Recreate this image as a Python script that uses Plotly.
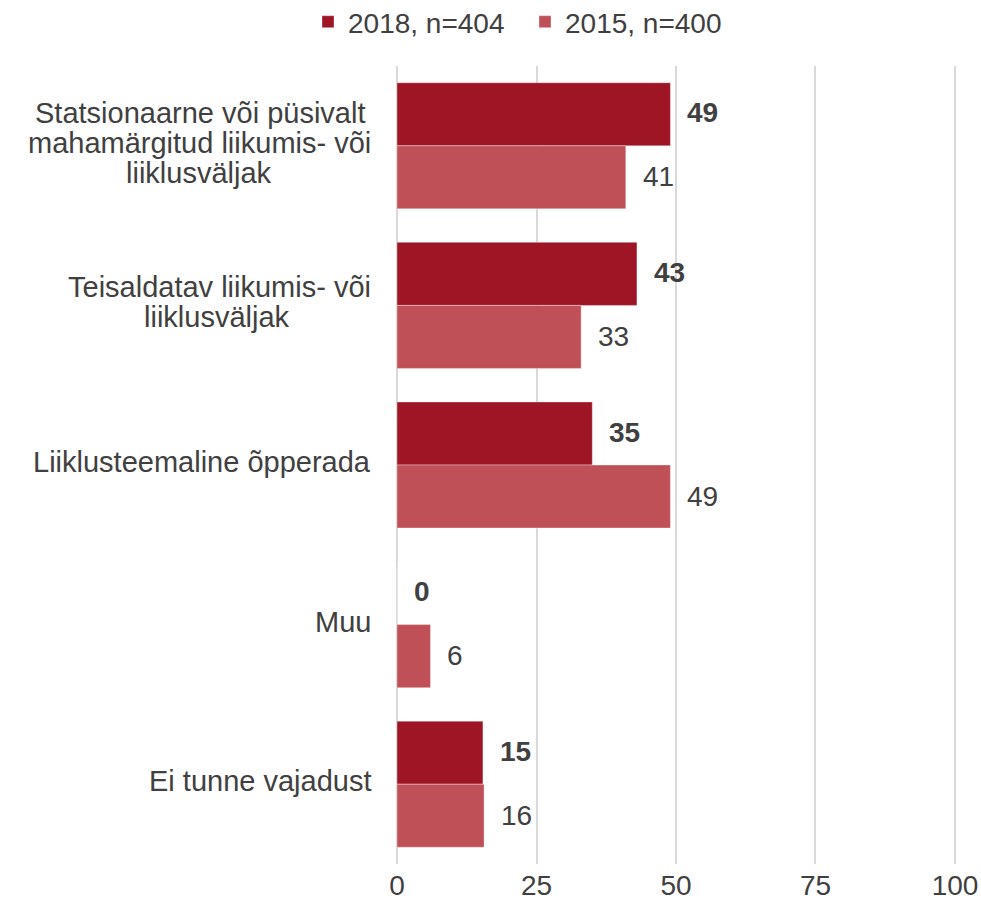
import plotly.graph_objects as go

categories = [
    "Statsionaarne või püsivalt<br>mahamärgitud liikumis- või<br>liiklusväljak",
    "Teisaldatav liikumis- või<br>liiklusväljak",
    "Liiklusteemaline õpperada",
    "Muu",
    "Ei tunne vajadust",
]
cat_ids = ["c1", "c2", "c3", "c4", "c5"]
values_2018 = [49, 43, 35, 0, 15.4]
values_2015 = [41, 33, 49, 6, 15.6]
series_names = ["2018, n=404", "2015, n=400"]
tick_vals = [0, 25, 50, 75, 100]

c2018 = "#9E1526"
c2015 = "#C05058"
txt = "#404040"
font_family = "Liberation Sans, Arial, sans-serif"
cat_font = 29
val_font = 28
line_gap = 30

# approximate Arial/Liberation Sans advance widths (per 1000 em) for label layout
_w = dict(a=556, b=556, c=500, d=556, e=556, f=278, g=556, h=556, i=222, j=222, k=500, l=222,
          m=833, n=556, o=556, p=556, q=556, r=333, s=500, t=278, u=556, v=500, w=722, x=500,
          y=500, z=500)
_w.update({"ä": 556, "õ": 556, "ü": 556, "ö": 556, " ": 278, "-": 333, "S": 667, "T": 611,
           "L": 556, "M": 833, "E": 667})


def text_width(s, size):
    return sum(_w.get(ch, 556) for ch in s) * size / 1000.0


fig = go.Figure()
fig.add_trace(go.Bar(y=cat_ids, x=values_2018, name=series_names[0], orientation="h",
                     marker=dict(color=c2018, line=dict(color="rgba(255,255,255,0.35)", width=1))))
fig.add_trace(go.Bar(y=cat_ids, x=values_2015, name=series_names[1], orientation="h",
                     marker=dict(color=c2015, line=dict(color="rgba(255,255,255,0.35)", width=1))))

annotations = []
for cid, label in zip(cat_ids, categories):
    lines = label.split("<br>")
    widths = [text_width(s, cat_font) for s in lines]
    maxw = max(widths)
    n = len(lines)
    for i, (s, w) in enumerate(zip(lines, widths)):
        annotations.append(dict(x=0, xref="paper", y=cid, yref="y", text=s,
                                showarrow=False, xanchor="right", yanchor="middle",
                                xshift=-24 - (maxw - w) / 2.0,
                                yshift=3 - (i - (n - 1) / 2.0) * line_gap,
                                font=dict(size=cat_font, color=txt, family=font_family)))
for cid, v in zip(cat_ids, values_2018):
    annotations.append(dict(x=v, y=cid, text="<b>%d</b>" % round(v), showarrow=False,
                            xanchor="left", yanchor="middle", xshift=15, yshift=33,
                            font=dict(size=val_font, color=txt, family=font_family)))
for cid, v in zip(cat_ids, values_2015):
    annotations.append(dict(x=v, y=cid, text="%d" % round(v), showarrow=False,
                            xanchor="left", yanchor="middle", xshift=15, yshift=-31,
                            font=dict(size=val_font, color=txt, family=font_family)))

fig.update_layout(
    width=981, height=901,
    margin=dict(l=397, r=24, t=66, b=37, autoexpand=False),
    paper_bgcolor="white", plot_bgcolor="white",
    barmode="group", bargap=0.21, bargroupgap=0,
    font=dict(family=font_family, size=28, color=txt),
    showlegend=True,
    legend=dict(orientation="h", x=308 / 981.0, xref="container", xanchor="left",
                y=1 - 22 / 901.0, yref="container", yanchor="middle",
                font=dict(size=28, color=txt), traceorder="normal",
                itemwidth=30, tracegroupgap=0, entrywidth=172, entrywidthmode="pixels"),
    annotations=annotations,
)
fig.update_xaxes(range=[0, 100.36], tickvals=tick_vals, showgrid=True, gridcolor="#D9D9D9",
                 gridwidth=2, zeroline=True, zerolinecolor="#D9D9D9", zerolinewidth=2,
                 showline=False, ticks="", tickfont=dict(size=28, color=txt), fixedrange=True,
                 ticklabeloverflow="allow", ticklabelstandoff=2, automargin=False)
fig.update_yaxes(autorange="reversed", showticklabels=False, showgrid=False, zeroline=False,
                 showline=False, ticks="", automargin=False, fixedrange=True)

fig.write_html(
    "out.html",
    config={"displayModeBar": False},
    post_script="document.body.style.margin='0';document.body.style.overflow='hidden';"
                "document.documentElement.style.overflow='hidden';",
)
